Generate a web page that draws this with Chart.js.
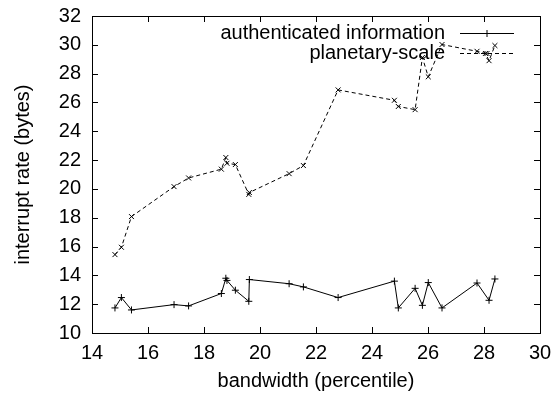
<!DOCTYPE html>
<html>
<head>
<meta charset="utf-8">
<script src="https://cdn.jsdelivr.net/npm/chart.js@4/dist/chart.umd.min.js"></script>
<style>
  html, body { margin: 0; padding: 0; background: #fff; }
  #wrap { width: 556px; height: 397px; }
</style>
</head>
<body>
<div id="wrap"><canvas id="myChart" width="556" height="397"></canvas></div>
<script>
// データ
const authX = [14.82, 15.05, 15.41, 16.93, 17.45, 18.62, 18.78, 18.82, 19.12, 19.6, 19.62, 21.04, 21.55, 22.79, 24.8, 24.94, 25.54, 25.8, 26.01, 26.5, 27.75, 28.18, 28.39];
const authY = [11.74, 12.46, 11.6, 11.97, 11.88, 12.74, 13.8, 13.65, 12.97, 12.2, 13.71, 13.42, 13.2, 12.46, 13.6, 11.74, 13.1, 11.92, 13.5, 11.74, 13.47, 12.27, 13.75];
const planX = [14.82, 15.05, 15.41, 16.93, 17.45, 18.62, 18.78, 18.82, 19.12, 19.6, 19.62, 21.04, 21.55, 22.79, 24.8, 24.94, 25.54, 25.8, 26.01, 26.5, 27.75, 28.05, 28.18, 28.39];
const planY = [15.44, 15.95, 18.08, 20.16, 20.76, 21.37, 22.18, 21.78, 21.69, 19.62, 19.75, 21.06, 21.62, 26.87, 26.15, 25.72, 25.5, 29.12, 27.78, 30.02, 29.55, 29.4, 28.9, 29.95];
const seriesNames = ['authenticated information', 'planetary-scale'];
const xTicks = [14, 16, 18, 20, 22, 24, 26, 28, 30];
const yTicks = [10, 12, 14, 16, 18, 20, 22, 24, 26, 28, 30, 32];

const FONT = 'Liberation Sans, Arial, Helvetica, sans-serif';
const toPts = (xs, ys) => xs.map((x, i) => ({ x: x, y: ys[i] }));

// 枠と内向きの目盛り、凡例を描くプラグイン
const framePlugin = {
  id: 'frame',
  afterDatasetsDraw(chart) {
    const { ctx, chartArea: a, scales } = chart;
    const t = 6;
    ctx.save();
    ctx.strokeStyle = '#000';
    ctx.lineWidth = 1;
    ctx.setLineDash([]);
    ctx.beginPath();
    xTicks.forEach(v => {
      const px = Math.round(scales.x.getPixelForValue(v)) + 0.5;
      ctx.moveTo(px, a.bottom); ctx.lineTo(px, a.bottom - t);
      ctx.moveTo(px, a.top); ctx.lineTo(px, a.top + t);
    });
    yTicks.forEach(v => {
      const py = Math.round(scales.y.getPixelForValue(v)) + 0.5;
      ctx.moveTo(a.left, py); ctx.lineTo(a.left + t, py);
      ctx.moveTo(a.right, py); ctx.lineTo(a.right - t, py);
    });
    ctx.stroke();
    ctx.strokeRect(Math.round(a.left) + 0.5, Math.round(a.top) + 0.5,
      Math.round(a.right - a.left), Math.round(a.bottom - a.top));

    // 凡例
    ctx.font = '20px ' + FONT;
    ctx.fillStyle = '#000';
    ctx.textAlign = 'right';
    ctx.textBaseline = 'middle';
    chart.data.datasets.forEach((ds, i) => {
      const y = a.top + 17 + i * 20;
      ctx.fillText(ds.label, a.right - 95, y);
      ctx.setLineDash(ds.borderDash || []);
      ctx.beginPath();
      ctx.moveTo(a.right - 80, y + 0.5);
      ctx.lineTo(a.right - 26, y + 0.5);
      ctx.stroke();
      ctx.setLineDash([]);
      Chart.helpers.drawPoint(ctx, {
        pointStyle: ds.pointStyle, radius: ds.pointRadius, rotation: 0, borderWidth: 1
      }, a.right - 53, y + 0.5);
    });
    ctx.restore();
  }
};

new Chart(document.getElementById('myChart').getContext('2d'), {
  type: 'scatter',
  data: {
    datasets: [{
      label: seriesNames[0],
      data: toPts(authX, authY),
      showLine: true,
      borderColor: '#000',
      backgroundColor: '#000',
      borderWidth: 1,
      pointStyle: 'cross',
      pointRadius: 3.5,
      pointBorderWidth: 1,
      tension: 0
    }, {
      label: seriesNames[1],
      data: toPts(planX, planY),
      showLine: true,
      borderColor: '#000',
      backgroundColor: '#000',
      borderWidth: 1,
      borderDash: [4, 3],
      pointStyle: 'crossRot',
      pointRadius: 3.5,
      pointBorderWidth: 1,
      tension: 0
    }]
  },
  options: {
    responsive: false,
    animation: false,
    layout: { padding: { left: 0, right: 16, top: 16, bottom: 0 } },
    plugins: { legend: { display: false }, tooltip: { enabled: false } },
    scales: {
      x: {
        type: 'linear', min: 14, max: 30,
        afterBuildTicks: s => { s.ticks = xTicks.map(v => ({ value: v })); },
        afterFit: s => { s.height = 64; s.paddingLeft = 0; s.paddingRight = 0; },
        grid: { display: false, drawTicks: false },
        border: { display: false },
        ticks: { color: '#000', font: { family: FONT, size: 20 }, padding: 8, maxRotation: 0 },
        title: { display: true, text: 'bandwidth (percentile)', color: '#000',
          font: { family: FONT, size: 20 }, padding: { top: 4, bottom: 4 } }
      },
      y: {
        type: 'linear', min: 10, max: 32,
        afterBuildTicks: s => { s.ticks = yTicks.map(v => ({ value: v })); },
        afterFit: s => { s.width = 92; s.paddingTop = 0; s.paddingBottom = 0; },
        grid: { display: false, drawTicks: false },
        border: { display: false },
        ticks: { color: '#000', font: { family: FONT, size: 20 }, padding: 11 },
        title: { display: true, text: 'interrupt rate (bytes)', color: '#000',
          font: { family: FONT, size: 20 }, padding: { top: 11, bottom: 11 } }
      }
    }
  },
  plugins: [framePlugin]
});
</script>
</body>
</html>
